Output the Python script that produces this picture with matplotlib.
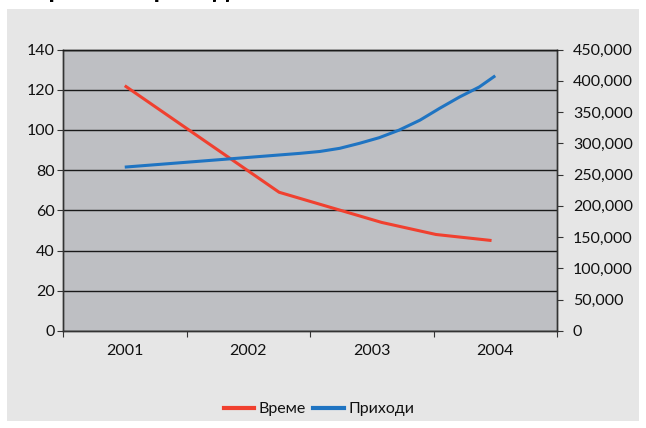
import matplotlib
matplotlib.use("Agg")
import matplotlib.pyplot as plt
from matplotlib.patches import Rectangle
from matplotlib.lines import Line2D
from matplotlib.ticker import FuncFormatter, FixedLocator

plt.rcParams['font.family'] = ['Lato', 'DejaVu Sans']

# Category labels
years = [2001, 2002, 2003, 2004]
year_labels = ['2001', '2002', '2003', '2004']

# Време (left axis) – positions along the year axis and values
time_x = [2001.0, 2002.25, 2003.08, 2003.52, 2003.97]
time_y = [122, 69, 54, 48, 45]

# Приходи (right axis)
income_x = [2001.0, 2002.42, 2002.58, 2002.74, 2002.90, 2003.06, 2003.22,
            2003.39, 2003.55, 2003.71, 2003.87, 2004.0]
income_y = [262000, 284000, 287000, 292000, 300000, 309000, 321000,
            337000, 356000, 374000, 390000, 408000]

title_text = 'Време и приходи'

W, H = 646, 428
fig = plt.figure(figsize=(W / 100, H / 100), dpi=100)
fig.patch.set_facecolor('white')

# chart area background
fig.patches.append(Rectangle((7 / W, 1 - 421 / H), (639 - 7) / W, (421 - 9) / H,
                             transform=fig.transFigure, facecolor='#e6e6e6',
                             edgecolor='none', zorder=-10))

fig.text(31 / W, 1 + 2.5 / H, title_text, fontsize=19, fontweight='bold',
         va='baseline', ha='left', color='black')

left, right, top, bottom = 63, 557, 49.5, 331
ax = fig.add_axes([left / W, 1 - bottom / H, (right - left) / W, (bottom - top) / H])
ax.set_facecolor('#bebfc3')
ax2 = ax.twinx()

red = '#f0402f'
blue = '#1f74c2'
fs = 11.5

ax.plot(time_x, time_y, color=red, lw=2.2, solid_capstyle='butt', zorder=3)
ax2.plot(income_x, income_y, color=blue, lw=2.2, solid_capstyle='butt', zorder=3)

ax.set_xlim(2000.5, 2004.5)
ax.set_ylim(0, 140)
ax2.set_ylim(0, 450000)

ax.set_yticks(range(0, 141, 20))
ax2.set_yticks(range(0, 450001, 50000))
ax2.yaxis.set_major_formatter(FuncFormatter(lambda v, p: f'{int(v):,}'))

ax.xaxis.set_major_locator(FixedLocator([y - 0.5 for y in years] + [years[-1] + 0.5]))
ax.xaxis.set_minor_locator(FixedLocator(years))
ax.set_xticklabels([], minor=False)
ax.set_xticklabels(year_labels, minor=True)
ax.tick_params(axis='x', which='major', length=4, width=0.8, color='#333333', direction='out')
ax.tick_params(axis='x', which='minor', length=0, pad=9.5, labelsize=fs, labelcolor='#111111')

ax.grid(axis='y', color='#1a1a1a', lw=1.0)
ax.set_axisbelow(True)
ax.tick_params(axis='y', length=4.5, width=0.8, color='#333333', labelsize=fs, pad=1.5,
               labelcolor='#111111')
ax2.tick_params(axis='y', length=4.5, width=0.8, color='#333333', labelsize=fs, pad=7,
                labelcolor='#111111')

for a in (ax, ax2):
    for s in ('left', 'right', 'bottom'):
        a.spines[s].set_color('#333333')
        a.spines[s].set_linewidth(1.0)
    a.spines['top'].set_color('#1a1a1a')
    a.spines['top'].set_linewidth(1.0)

handles = [Line2D([], [], color=red, lw=3), Line2D([], [], color=blue, lw=3)]
fig.legend(handles, ['Време', 'Приходи'], loc='center', ncol=2,
           bbox_to_anchor=(319 / W, 1 - 409 / H), frameon=False, fontsize=fs,
           handlelength=1.9, handletextpad=0.3, columnspacing=0.45,
           labelcolor='#111111')

fig.savefig('out.png', dpi=100)
